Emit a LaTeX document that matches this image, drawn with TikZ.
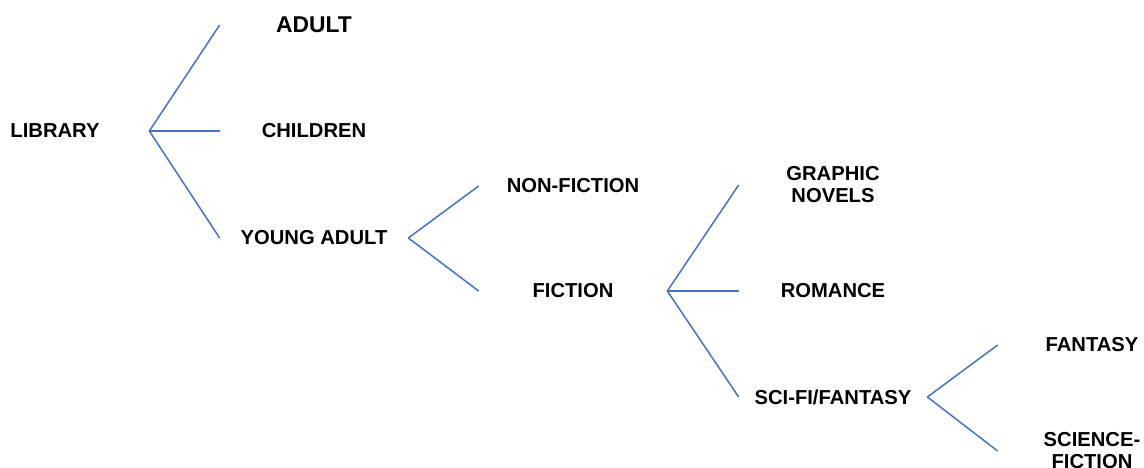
\documentclass[tikz,border=0pt]{standalone}
\usepackage{fontspec}
\setmainfont{Liberation Sans}
\usepackage{xcolor}
\usetikzlibrary{positioning,calc}
\definecolor{branchblue}{HTML}{4472C4}
\begin{document}
\begin{tikzpicture}[
    item/.style={minimum width=3.76cm, inner sep=0pt, align=center,
        font=\fontsize{11.5}{12.5}\selectfont\bfseries},
    branch/.style={draw=branchblue, line width=0.85pt}
]
    \useasboundingbox (0,0) rectangle (22.88,-9.34);

    % categories
    \node[item] (library) at (1.10,-2.62) {LIBRARY};
    \node[item, font=\fontsize{13}{15}\selectfont\bfseries] (adult) at (6.28,-0.50) {ADULT};
    \node[item] (children) at (6.28,-2.62) {CHILDREN};
    \node[item] (young) at (6.28,-4.76) {YOUNG ADULT};

    \node[item] (nonfiction) at (11.46,-3.72) {NON-FICTION};
    \node[item] (fiction) at (11.46,-5.82) {FICTION};

    \node[item] (graphic) at (16.66,-3.70) {GRAPHIC\\NOVELS};
    \node[item] (romance) at (16.66,-5.82) {ROMANCE};
    \node[item] (scifan) at (16.66,-7.94) {SCI-FI/FANTASY};

    \node[item] (fantasy) at (21.84,-6.90) {FANTASY};
    \node[item] (scifi) at (21.84,-9.02) {SCIENCE-\\FICTION};

    % branches
    \draw[branch] (library.east) -- (adult.west);
    \draw[branch] (library.east) -- (children.west);
    \draw[branch] (library.east) -- (young.west);

    \draw[branch] (young.east) -- (nonfiction.west);
    \draw[branch] (young.east) -- (fiction.west);

    \draw[branch] (fiction.east) -- (graphic.west);
    \draw[branch] (fiction.east) -- (romance.west);
    \draw[branch] (fiction.east) -- (scifan.west);

    \draw[branch] (scifan.east) -- (fantasy.west);
    \draw[branch] (scifan.east) -- (scifi.west);
\end{tikzpicture}
\end{document}
